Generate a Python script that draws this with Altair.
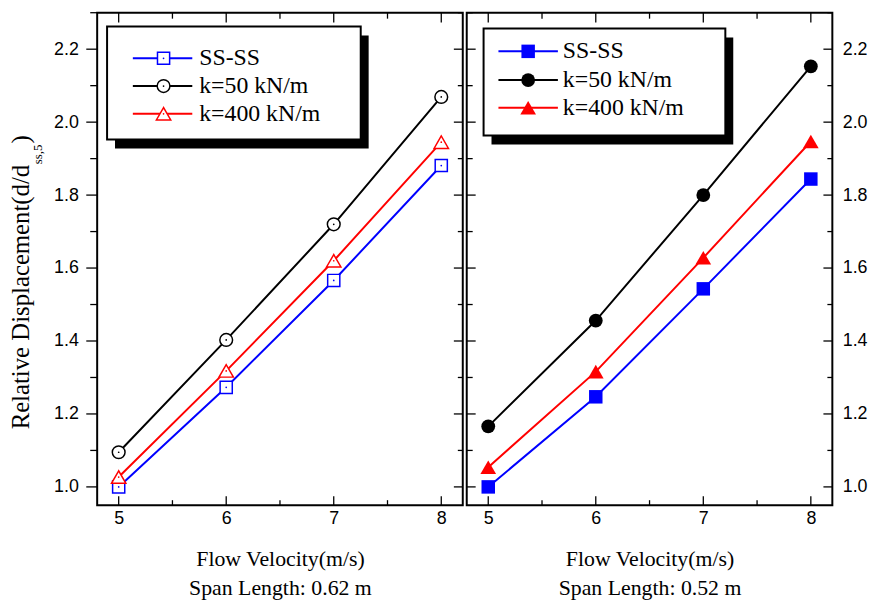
import altair as alt
import pandas as pd

# ---------------- data ----------------
velocity = [5, 6, 7, 8]
series_names = ["SS-SS", "k=50 kN/m", "k=400 kN/m"]

left_ss = [1.000, 1.273, 1.566, 1.881]
left_k50 = [1.095, 1.403, 1.720, 2.069]
left_k400 = [1.027, 1.318, 1.620, 1.945]

right_ss = [1.000, 1.247, 1.543, 1.844]
right_k50 = [1.166, 1.456, 1.800, 2.153]
right_k400 = [1.054, 1.316, 1.628, 1.947]

x_major = [5, 6, 7, 8]
x_minor = [5.5, 6.5, 7.5]
y_major = [1.0, 1.2, 1.4, 1.6, 1.8, 2.0, 2.2]
y_minor = [1.1, 1.3, 1.5, 1.7, 1.9, 2.1, 2.3]

x_title = "Flow Velocity(m/s)"
span_left = "Span Length: 0.62 m"
span_right = "Span Length: 0.52 m"

# ---------------- styling ----------------
series_colors = ["#0000ff", "#000000", "#ff0000"]
series_shapes = ["square", "circle", "triangle-up"]
open_sizes = [150, 165, 210]
filled_sizes = [185, 195, 250]

W, H = 369, 497
X_DOMAIN = [4.8, 8.2]
Y_DOMAIN = [0.95, 2.3]
SERIF = "Liberation Serif"
SANS = "Liberation Sans"

xs = alt.Scale(domain=X_DOMAIN, nice=False, zero=False)
ys = alt.Scale(domain=Y_DOMAIN, nice=False, zero=False)
one = pd.DataFrame({"d": [0]})


def make_axes(y_orient, y_label_pad, span_text):
    xaxis = alt.Axis(values=x_major, format="d", ticks=False, tickSize=0, domain=False, grid=False,
                     labelPadding=5, labelFont=SANS, labelFontSize=18, labelColor="black",
                     title=[x_title, span_text], titleFont=SERIF, titleFontSize=22,
                     titleFontWeight="normal", titleColor="black", titlePadding=21,
                     titleLineHeight=29)
    yaxis = alt.Axis(values=y_major, format=".1f", orient=y_orient, ticks=False, tickSize=0,
                     domain=False, grid=False, labelPadding=y_label_pad, labelFont=SANS,
                     labelFontSize=18, labelColor="black", title=None)
    return xaxis, yaxis


def tick_rules(values, orient, length, xaxis, yaxis):
    df = pd.DataFrame({"v": values})
    m = alt.Chart(df).mark_rule(color="black", strokeWidth=1.3)
    if orient == "left_out":
        enc = dict(y=alt.Y("v:Q", scale=ys, axis=yaxis), x=alt.value(-length), x2=alt.value(0))
    elif orient == "left_in":
        enc = dict(y=alt.Y("v:Q", scale=ys, axis=yaxis), x=alt.value(0), x2=alt.value(length))
    elif orient == "right_in":
        enc = dict(y=alt.Y("v:Q", scale=ys, axis=yaxis), x=alt.value(W - length), x2=alt.value(W))
    elif orient == "top_in":
        enc = dict(x=alt.X("v:Q", scale=xs, axis=xaxis), y=alt.value(0), y2=alt.value(length))
    else:  # bottom_in
        enc = dict(x=alt.X("v:Q", scale=xs, axis=xaxis), y=alt.value(H - length), y2=alt.value(H))
    return m.encode(**enc)


def marker_layers(chart, i, open_markers, enc):
    c = series_colors[i]
    s = series_shapes[i]
    out = []
    if open_markers:
        out.append(chart.mark_point(shape=s, size=open_sizes[i], filled=True, fill="white",
                                    stroke=c, strokeWidth=1.5, opacity=1).encode(**enc))
        out.append(chart.mark_circle(size=3, color=c, opacity=1).encode(**enc))
    else:
        out.append(chart.mark_point(shape=s, size=filled_sizes[i], filled=True, color=c,
                                    opacity=1, strokeWidth=0).encode(**enc))
    return out


def panel(values_list, open_markers, legend, y_orient, y_label_pad, span_text, left_ticks):
    xaxis, yaxis = make_axes(y_orient, y_label_pad, span_text)
    layers = []
    if left_ticks == "out":
        layers.append(tick_rules(y_major, "left_out", 11, xaxis, yaxis))
        layers.append(tick_rules(y_minor, "left_out", 7, xaxis, yaxis))
    else:
        layers.append(tick_rules(y_major, "left_in", 9, xaxis, yaxis))
        layers.append(tick_rules(y_minor, "left_in", 6, xaxis, yaxis))
    layers.append(tick_rules(y_major, "right_in", 9, xaxis, yaxis))
    layers.append(tick_rules(y_minor, "right_in", 5, xaxis, yaxis))
    layers.append(tick_rules(x_major, "top_in", 10, xaxis, yaxis))
    layers.append(tick_rules(x_minor, "top_in", 6, xaxis, yaxis))
    layers.append(tick_rules(x_major, "bottom_in", 9, xaxis, yaxis))
    layers.append(tick_rules(x_minor, "bottom_in", 5, xaxis, yaxis))

    for i, vals in enumerate(values_list):
        df = pd.DataFrame({"velocity": velocity, "value": vals})
        base = alt.Chart(df)
        enc = dict(x=alt.X("velocity:Q", scale=xs, axis=xaxis),
                   y=alt.Y("value:Q", scale=ys, axis=yaxis))
        layers.append(base.mark_line(color=series_colors[i], strokeWidth=2).encode(**enc))
        layers.extend(marker_layers(base, i, open_markers, enc))

    # legend box with shadow
    bx0, bx1, by0, by1, rows, lx0, lx1, mx, tx = legend
    lone = alt.Chart(one)
    layers.append(lone.mark_rect(color="black").encode(
        x=alt.value(bx0 + 8), x2=alt.value(bx1 + 8), y=alt.value(by0 + 9), y2=alt.value(by1 + 9)))
    layers.append(lone.mark_rect(fill="white", stroke="black", strokeWidth=2).encode(
        x=alt.value(bx0), x2=alt.value(bx1), y=alt.value(by0), y2=alt.value(by1)))
    for i, name in enumerate(series_names):
        ry = rows[i]
        layers.append(lone.mark_rule(color=series_colors[i], strokeWidth=2).encode(
            x=alt.value(lx0), x2=alt.value(lx1), y=alt.value(ry)))
        layers.extend(marker_layers(lone, i, open_markers, dict(x=alt.value(mx), y=alt.value(ry))))
        layers.append(lone.mark_text(text=name, align="left", baseline="middle", font=SERIF,
                                     fontSize=24, color="black").encode(
            x=alt.value(tx), y=alt.value(ry)))
    return layers


left_layers = panel([left_ss, left_k50, left_k400], True,
                    (10, 266, 14, 128, [46, 74, 102], 36, 96, 67, 103),
                    "left", 19, span_left, "out")

# y-axis title with subscript (text marks placed left of the left panel)
ttl = alt.Chart(one)
left_layers.append(ttl.mark_text(text="Relative Displacement(d/d", angle=270, align="center",
                                 baseline="alphabetic", font=SERIF, fontSize=25,
                                 color="black").encode(x=alt.value(-69), y=alt.value(287)))
left_layers.append(ttl.mark_text(text="ss,5", angle=270, align="left", baseline="alphabetic",
                                 font=SERIF, fontSize=13, color="black").encode(
    x=alt.value(-56), y=alt.value(153)))
left_layers.append(ttl.mark_text(text=")", angle=270, align="left", baseline="alphabetic",
                                 font=SERIF, fontSize=25, color="black").encode(
    x=alt.value(-69), y=alt.value(132)))

right_layers = panel([right_ss, right_k50, right_k400], False,
                     (17, 261, 16, 124, [39, 68, 96], 32, 92, 62, 97),
                     "right", 10, span_right, "in")

left = alt.layer(*left_layers).properties(width=W, height=H)
right = alt.layer(*right_layers).properties(width=W, height=H)

chart = alt.hconcat(left, right, spacing=0).configure_view(
    stroke="black", strokeWidth=2
).properties(
    padding={"left": 0, "top": 0, "right": 0, "bottom": 0},
    background="white",
)

chart.save("out.html", embed_options={"renderer": "svg", "actions": False})
